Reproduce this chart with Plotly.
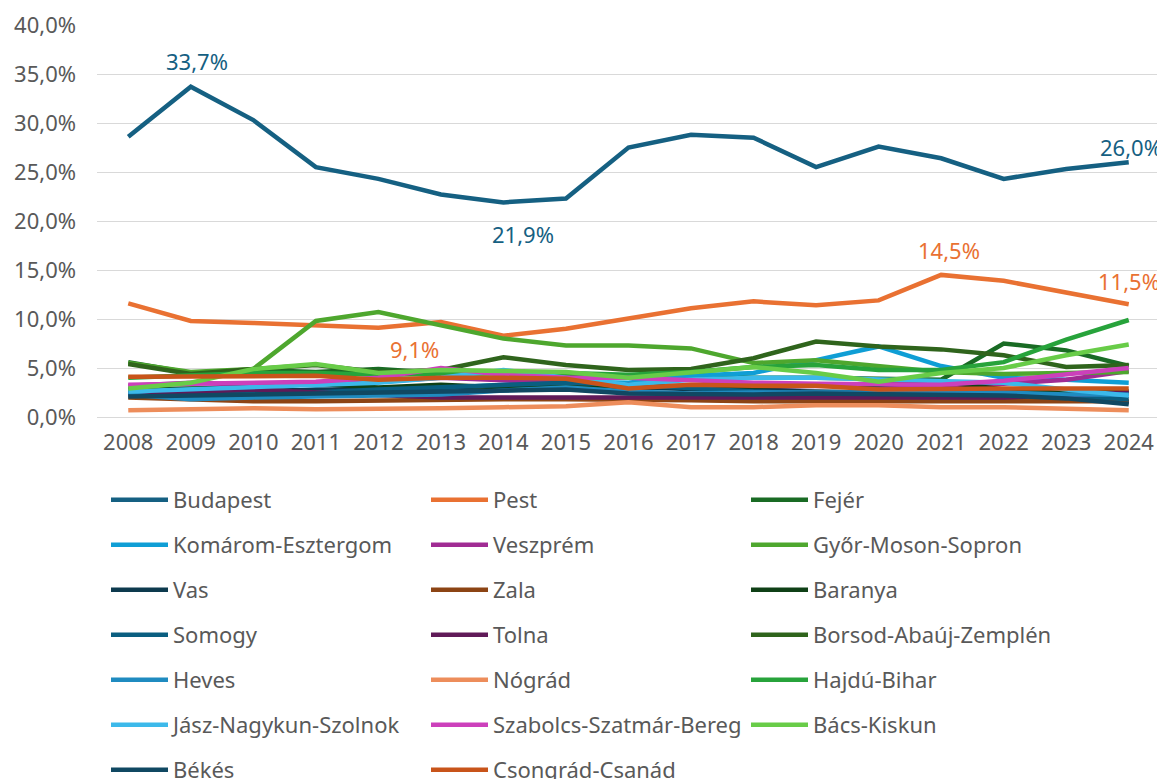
import plotly.graph_objects as go

# évek
years = [str(y) for y in range(2008, 2025)]

# megyék (sorrend = Excel sorozatok)
budapest = [28.6, 33.7, 30.3, 25.5, 24.3, 22.7, 21.9, 22.3, 27.5, 28.8, 28.5, 25.5, 27.6, 26.4, 24.3, 25.3, 26.0]
pest = [11.6, 9.8, 9.6, 9.3, 9.1, 9.7, 8.3, 9.0, 10.1, 11.1, 11.8, 11.4, 11.9, 14.5, 13.9, 12.7, 11.5]
fejer = [5.6, 4.5, 4.8, 4.6, 4.9, 4.5, 4.6, 4.3, 4.0, 4.3, 4.0, 4.0, 3.9, 3.8, 7.5, 6.8, 5.2]
komarom = [2.6, 2.0, 2.5, 2.8, 2.6, 3.0, 3.3, 3.6, 3.5, 4.2, 4.5, 5.8, 7.2, 5.2, 4.0, 3.8, 3.5]
veszprem = [3.2, 3.5, 3.3, 3.4, 3.6, 4.0, 3.7, 3.5, 3.3, 3.2, 3.0, 3.2, 3.1, 3.0, 3.4, 3.8, 4.7]
gyor = [5.5, 4.6, 4.9, 9.8, 10.7, 9.3, 8.0, 7.3, 7.3, 7.0, 5.5, 5.8, 5.2, 4.6, 4.4, 4.5, 4.6]
vas = [2.4, 2.5, 2.6, 2.7, 2.8, 3.0, 3.2, 3.4, 3.0, 2.8, 2.7, 2.6, 2.5, 2.4, 2.3, 2.2, 1.5]
zala = [2.0, 1.8, 1.6, 1.6, 1.7, 1.7, 1.8, 1.8, 1.8, 1.7, 1.6, 1.6, 1.6, 1.5, 1.6, 1.5, 1.6]
baranya = [2.8, 2.9, 3.0, 3.4, 3.0, 3.3, 3.0, 3.1, 3.0, 3.2, 3.1, 3.2, 3.3, 3.6, 2.8, 2.5, 2.6]
somogy = [2.5, 2.6, 2.4, 2.5, 2.8, 3.0, 3.2, 3.5, 3.3, 2.9, 2.6, 2.4, 2.5, 2.6, 2.5, 2.2, 1.8]
tolna = [2.3, 2.6, 2.8, 2.5, 2.2, 2.0, 2.0, 2.0, 2.1, 2.0, 2.0, 2.1, 2.0, 2.0, 2.0, 2.2, 2.5]
borsod = [5.4, 4.4, 4.9, 5.3, 4.6, 4.8, 6.1, 5.3, 4.8, 4.9, 6.0, 7.7, 7.2, 6.9, 6.3, 5.1, 5.3]
heves = [2.3, 1.8, 2.0, 2.1, 2.1, 2.3, 2.7, 3.0, 2.6, 2.4, 2.5, 2.5, 2.4, 2.4, 2.5, 2.3, 2.3]
nograd = [0.7, 0.8, 0.9, 0.8, 0.8, 0.9, 1.0, 1.1, 1.5, 1.0, 1.0, 1.2, 1.2, 1.0, 1.0, 0.9, 0.7]
hajdu = [4.0, 4.2, 4.5, 4.5, 4.3, 4.4, 4.5, 4.5, 4.3, 4.6, 5.1, 5.3, 4.8, 4.8, 5.6, 7.9, 9.9]
jasz = [2.6, 2.8, 3.0, 3.2, 3.5, 4.0, 4.8, 4.0, 3.3, 3.8, 4.0, 4.0, 3.8, 3.6, 3.5, 2.8, 2.2]
szabolcs = [3.3, 3.4, 3.5, 3.6, 4.0, 5.0, 4.3, 4.0, 4.0, 3.7, 3.5, 3.4, 3.3, 3.3, 3.7, 4.3, 5.0]
bacs = [2.9, 3.5, 4.9, 5.4, 4.5, 4.8, 4.7, 4.6, 4.0, 4.6, 5.1, 4.5, 3.6, 4.5, 5.0, 6.3, 7.4]
bekes = [2.1, 2.2, 2.2, 2.3, 2.4, 2.5, 2.6, 2.8, 2.4, 2.3, 2.3, 2.4, 2.3, 2.3, 2.2, 1.9, 1.3]
csongrad = [4.1, 4.1, 4.2, 4.2, 3.8, 4.0, 4.0, 3.9, 2.9, 3.3, 3.2, 3.2, 2.8, 2.9, 2.9, 2.9, 2.9]

series = [
    ("Budapest", budapest, "#156082"),
    ("Pest", pest, "#E97132"),
    ("Fejér", fejer, "#196B24"),
    ("Komárom-Esztergom", komarom, "#0F9ED5"),
    ("Veszprém", veszprem, "#A02B93"),
    ("Győr-Moson-Sopron", gyor, "#4EA72E"),
    ("Vas", vas, "#0D3A4E"),
    ("Zala", zala, "#8C4414"),
    ("Baranya", baranya, "#0F4016"),
    ("Somogy", somogy, "#0A5E80"),
    ("Tolna", tolna, "#601A58"),
    ("Borsod-Abaúj-Zemplén", borsod, "#2F641C"),
    ("Heves", heves, "#1F8BC0"),
    ("Nógrád", nograd, "#ED8D5B"),
    ("Hajdú-Bihar", hajdu, "#27A33B"),
    ("Jász-Nagykun-Szolnok", jasz, "#3CB9EA"),
    ("Szabolcs-Szatmár-Bereg", szabolcs, "#CC40BB"),
    ("Bács-Kiskun", bacs, "#68CC48"),
    ("Békés", bekes, "#104862"),
    ("Csongrád-Csanád", csongrad, "#C8541A"),
]

FONT = "Noto Sans"
GREY = "#595959"
FS = 22

fig = go.Figure()
for i, (name, vals, col) in enumerate(series):
    row = i // 3 + 1
    fig.add_trace(go.Scatter(
        x=years, y=[v / 100 for v in vals],
        mode="lines", name=name,
        line=dict(color=col, width=4.5),
        legend="legend" if row == 1 else f"legend{row}",
    ))

# adatcímkék (év index, eltolás)
labels = [
    (budapest, 1, "#156082", 26, 6),
    (budapest, 16, "#156082", 15, 2),
    (budapest, 6, "#156082", -32, 20),
    (pest, 13, "#E97132", 25, 8),
    (pest, 16, "#E97132", 23, 0),
    (pest, 4, "#E97132", -21, 36),
]
for vals, idx, col, ys, xs in labels:
    fig.add_annotation(
        xref="x", yref="y", x=idx, y=vals[idx] / 100,
        text=f"{vals[idx]:.1f}%".replace(".", ","),
        showarrow=False, yshift=ys, xshift=xs,
        font=dict(family=FONT, size=FS, color=col),
    )

layout_legends = {}
row_y = [500, 545, 590, 635, 680, 725, 770]
for r, yc in enumerate(row_y):
    key = "legend" if r == 0 else f"legend{r + 1}"
    layout_legends[key] = dict(
        orientation="h", xref="container", yref="container",
        x=98 / 1165, xanchor="left", y=1 - (yc - 8) / 779, yanchor="middle",
        entrywidth=248, itemwidth=57,
        font=dict(family=FONT, size=FS, color=GREY),
        bgcolor="rgba(0,0,0,0)", traceorder="normal",
    )

fig.update_layout(
    width=1165, height=779,
    margin=dict(l=89, r=13, t=17, b=370, autoexpand=False),
    paper_bgcolor="white", plot_bgcolor="white",
    separators=", ",
    font=dict(family=FONT, size=FS, color=GREY),
    xaxis=dict(
        type="category", range=[-0.5, 16.5], showgrid=False, showline=False,
        ticks="", tickfont=dict(family=FONT, size=FS, color=GREY), ticklabelstandoff=10,
    ),
    yaxis=dict(
        range=[0, 0.4], dtick=0.05, tickformat=".1%", showgrid=True,
        gridcolor="#D9D9D9", gridwidth=1.3, zeroline=True, zerolinecolor="#D9D9D9",
        zerolinewidth=1.3, ticks="", ticklabelstandoff=20,
        tickfont=dict(family=FONT, size=FS, color=GREY),
    ),
    showlegend=True,
    **layout_legends,
)

fig.write_html("out.html")
